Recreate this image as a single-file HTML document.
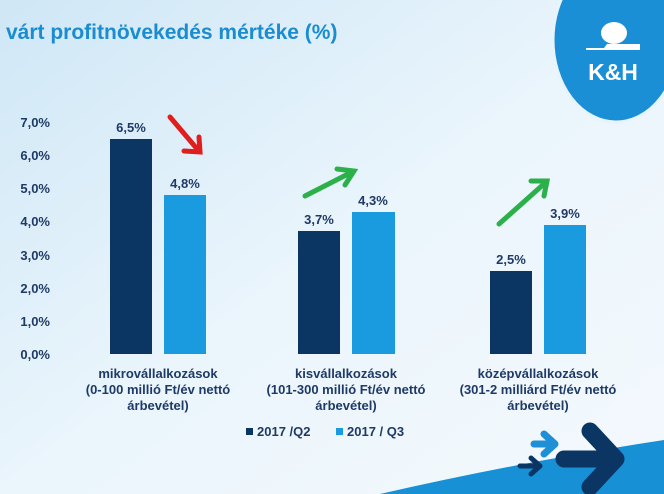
<!DOCTYPE html><html><head><style>body{margin:0}svg{display:block;font-family:"Liberation Sans",Arial,sans-serif}</style></head><body>
<svg width="664" height="494" viewBox="0 0 664 494" xmlns="http://www.w3.org/2000/svg">
<defs><linearGradient id="bg" x1="0" y1="0" x2="1" y2="1"><stop offset="0" stop-color="#cfe7f6"/><stop offset="0.5" stop-color="#eaf5fc"/><stop offset="1" stop-color="#f4f9fd"/></linearGradient></defs>
<rect width="664" height="494" fill="url(#bg)"/>
<path d="M380 494 Q520 462 664 440 L664 494 Z" fill="#1790d6"/>
<text x="6" y="39" font-size="21" font-weight="bold" fill="#1a8cd0">várt profitnövekedés mértéke (%)</text>
<ellipse cx="616" cy="40" rx="63" ry="82" fill="#1a8fd6" stroke="#e8f4fb" stroke-width="3"/>
<path d="M586 48 L604 48 L607 44 L640 44 L640 50 L586 50 Z" fill="#fff"/><ellipse cx="614" cy="33" rx="13" ry="11" fill="#fff"/>
<text x="613" y="80" font-size="23" font-weight="bold" fill="#fff" text-anchor="middle">K&amp;H</text>
<g font-size="13" font-weight="bold" fill="#1f3a66" text-anchor="end">
<text x="50" y="127">7,0%</text><text x="50" y="160">6,0%</text><text x="50" y="193">5,0%</text><text x="50" y="226">4,0%</text><text x="50" y="260">3,0%</text><text x="50" y="293">2,0%</text><text x="50" y="326">1,0%</text><text x="50" y="359">0,0%</text></g>
<g fill="#0b3563"><rect x="110" y="139" width="42" height="215"/><rect x="298" y="231" width="42" height="123"/><rect x="490" y="271" width="42" height="83"/></g>
<g fill="#1a9be0"><rect x="164" y="195" width="42" height="159"/><rect x="352" y="212" width="43" height="142"/><rect x="544" y="225" width="42" height="129"/></g>
<g font-size="13" font-weight="bold" fill="#1f3a66" text-anchor="middle">
<text x="131" y="132">6,5%</text><text x="185" y="188">4,8%</text><text x="319" y="224">3,7%</text><text x="373" y="205">4,3%</text><text x="511" y="264">2,5%</text><text x="565" y="218">3,9%</text>
<text x="158" y="378">mikrovállalkozások</text><text x="158" y="394">(0-100 millió Ft/év nettó</text><text x="158" y="410">árbevétel)</text>
<text x="346" y="378">kisvállalkozások</text><text x="346" y="394">(101-300 millió Ft/év nettó</text><text x="346" y="410">árbevétel)</text>
<text x="538" y="378">középvállalkozások</text><text x="538" y="394">(301-2 milliárd Ft/év nettó</text><text x="538" y="410">árbevétel)</text></g>
<rect x="246" y="428" width="7" height="7" fill="#0b3563"/><text x="257" y="436" font-size="13" font-weight="bold" fill="#1f3a66">2017 /Q2</text>
<rect x="336" y="428" width="7" height="7" fill="#1a9be0"/><text x="347" y="436" font-size="13" font-weight="bold" fill="#1f3a66">2017 / Q3</text>
<g stroke-width="5" fill="none" stroke-linecap="round">
<path d="M170 117 L198 150 M184 151 L200 152 L199 137" stroke="#e01e1e"/>
<path d="M305 196 L352 172 M337 169 L354 171 L345 185" stroke="#2bb04a"/>
<path d="M499 224 L545 183 M531 181 L547 181 L544 196" stroke="#2bb04a"/></g>
<g stroke-linecap="round" stroke-linejoin="round" fill="none">
<path d="M534 444 L553 444 M544 434 L555 444 L544 454" stroke="#1f8fd6" stroke-width="7"/>
<path d="M520 466 L538 466 M531 458 L540 466 L531 474" stroke="#0b3563" stroke-width="5"/>
<path d="M564 459 L612 459 M590 431 L616 459 L590 487" stroke="#0b3563" stroke-width="17"/></g>
</svg></body></html>
